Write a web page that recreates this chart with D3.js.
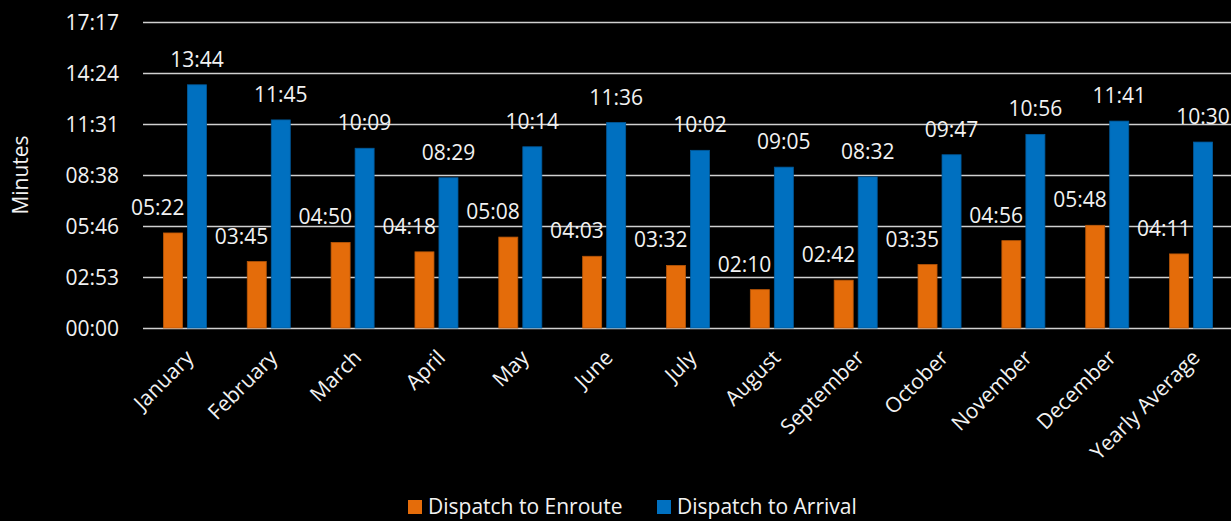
<!DOCTYPE html>
<html>
<head>
<meta charset="utf-8">
<script src="https://cdn.jsdelivr.net/npm/d3@7"></script>
<style>
  html, body { margin: 0; padding: 0; background: #000; }
  svg { display: block; }
  text { font-family: "Open Sans", "Noto Sans", sans-serif; fill: #f2f2f2; }
</style>
</head>
<body>
<svg id="chart" width="1231" height="521"></svg>
<script>
// ---- data ----
const categories = ["January", "February", "March", "April", "May", "June", "July",
  "August", "September", "October", "November", "December", "Yearly Average"];
const seriesNames = ["Dispatch to Enroute", "Dispatch to Arrival"];
const enroute = ["05:22", "03:45", "04:50", "04:18", "05:08", "04:03", "03:32",
  "02:10", "02:42", "03:35", "04:56", "05:48", "04:11"];
const arrival = ["13:44", "11:45", "10:09", "08:29", "10:14", "11:36", "10:02",
  "09:05", "08:32", "09:47", "10:56", "11:41", "10:30"];
// y ticks: Excel time axis, step 0.002 day = 172.8 s
const yTickSeconds = [0, 172.8, 345.6, 518.4, 691.2, 864, 1036.8];
const yTickLabels = ["00:00", "02:53", "05:46", "08:38", "11:31", "14:24", "17:17"];

const colors = ["#E46C0A", "#0070C0"];
const strokes = ["#B85608", "#005A9C"];

const toSec = s => { const [m, ss] = s.split(":").map(Number); return m * 60 + ss; };
const rows = categories.map((c, i) => ({
  cat: c,
  vals: [enroute[i], arrival[i]].map((lab, k) => ({ k, lab, v: toSec(lab) }))
}));

const FS = "21px";
const svg = d3.select("#chart");
const plot = { left: 143, right: 1233, top: 22, bottom: 328 };

const x0 = d3.scaleBand().domain(categories).range([plot.left, plot.right]).padding(0);
const x1 = d3.scaleBand().domain([0, 1]).range([0, x0.bandwidth()])
  .paddingInner(0.208).paddingOuter(0.85);
const y = d3.scaleLinear().domain([0, 1036.8]).range([plot.bottom, plot.top]);

// grid lines + y labels
const yAxis = d3.axisLeft(y).tickValues(yTickSeconds)
  .tickFormat((d, i) => yTickLabels[i]).tickSize(0).tickPadding(0);
const gy = svg.append("g").call(yAxis);
gy.select(".domain").remove();
gy.selectAll(".tick text").attr("x", 0).attr("dy", "0.35em")
  .style("font-size", FS).style("fill", "#f2f2f2").attr("text-anchor", "end")
  .attr("transform", "translate(119,0)");
gy.selectAll(".tick").append("line")
  .attr("x1", plot.left).attr("x2", 1231)
  .attr("stroke", "#d0d0d0").attr("stroke-width", 1.4);

// bars
const groups = svg.append("g").selectAll("g").data(rows).join("g")
  .attr("transform", d => `translate(${x0(d.cat)},0)`);
groups.selectAll("rect").data(d => d.vals).join("rect")
  .attr("x", d => x1(d.k)).attr("width", x1.bandwidth())
  .attr("y", d => y(d.v)).attr("height", d => y(0) - y(d.v))
  .attr("fill", d => colors[d.k]).attr("stroke", d => strokes[d.k]).attr("stroke-width", 0.8);

// data labels
groups.selectAll("text.lab").data(d => d.vals).join("text")
  .attr("class", "lab")
  .attr("x", d => d.k === 0 ? x1(d.k) + x1.bandwidth() + 2 : x1(d.k) + x1.bandwidth() / 2)
  .attr("y", d => y(d.v) - 18)
  .attr("text-anchor", d => d.k === 0 ? "end" : "middle")
  .style("font-size", FS)
  .text(d => d.lab);

// x axis category labels
svg.append("g").selectAll("text").data(categories).join("text")
  .attr("transform", d => `translate(${x0(d) + x0.bandwidth() / 2 + 10},359) rotate(-45)`)
  .attr("text-anchor", "end")
  .style("font-size", FS)
  .text(d => d);

// y axis title
svg.append("text")
  .attr("transform", `translate(28,${(plot.top + plot.bottom) / 2}) rotate(-90)`)
  .attr("text-anchor", "middle")
  .style("font-size", FS)
  .text("Minutes");

// legend
const legendX = [408, 657];
const lg = svg.append("g").selectAll("g").data(seriesNames).join("g")
  .attr("transform", (d, i) => `translate(${legendX[i]},0)`);
lg.append("rect").attr("x", 0).attr("y", 500).attr("width", 14).attr("height", 14)
  .attr("fill", (d, i) => colors[i]);
lg.append("text").attr("x", 20).attr("y", 514).style("font-size", FS).text(d => d);
</script>
</body>
</html>
